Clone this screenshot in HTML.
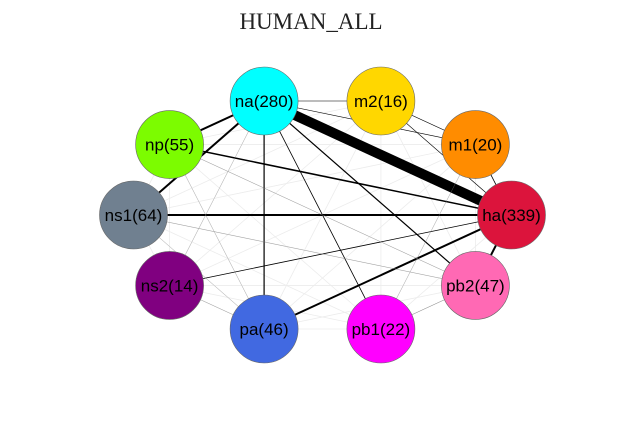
<!DOCTYPE html>
<html><head><meta charset="utf-8"><style>
body{margin:0;background:#fff;}
svg{display:block;}
</style></head><body>
<svg id="chart" width="623" height="424" viewBox="0 0 623 424" xmlns="http://www.w3.org/2000/svg">
<text x="311" y="29" text-anchor="middle" font-family="Liberation Serif, serif" font-size="23" fill="#222">HUMAN_ALL</text>
<g id="edges"></g>
<g id="nodes"></g>
</svg>
<script>
const nodeNames = ["na","m2","m1","ha","pb2","pb1","pa","ns2","ns1","np"];
const nodeCounts = [280,16,20,339,47,22,46,14,64,55];
const nodeColors = ["#00ffff","#ffd700","#ff8c00","#dc143c","#ff69b4","#ff00ff","#4169e1","#800080","#708090","#7cfc00"];
// edges: [source, target, weight]
const edgeSources = ["na","na","na","ns1","np","pa","ha","na","na","na","na","na","m2","m2","m1","ns2","pb2","np","ns1","ns2","np","ns1","na","m1"];
const edgeTargets = ["ha","np","ns1","ha","ha","ha","pb2","pb2","pa","pb1","m2","m1","m1","ha","ha","ha","pb1","pb2","pb2","pa","pa","pa","ns2","pb1"];
const edgeWeights = [10,2,2,2,1.5,2,2,1.2,1.2,0.8,0.6,0.6,0.6,0.6,0.8,0.8,0.5,0.4,0.4,0.4,0.3,0.3,0.3,0.3];
const cx=322.5, cy=215, rx=189, ry=114, nodeR=34;
const manualAngles=[-108,-72,-36,0,36,72,108,144,180,216];
function pos(name){const i=nodeNames.indexOf(name);const a=manualAngles[i]*Math.PI/180;
  return [cx+rx*Math.cos(a), cy+ry*Math.sin(a)/0.951];}
const NS="http://www.w3.org/2000/svg";
const eg=document.getElementById('edges'), ng=document.getElementById('nodes');
for(let i=0;i<nodeNames.length;i++)for(let j=i+1;j<nodeNames.length;j++){
  const p=pos(nodeNames[i]),q=pos(nodeNames[j]);
  const l=document.createElementNS(NS,'line');
  l.setAttribute('x1',p[0]);l.setAttribute('y1',p[1]);l.setAttribute('x2',q[0]);l.setAttribute('y2',q[1]);
  l.setAttribute('stroke','#ececec');l.setAttribute('stroke-width','0.8');
  
  
  eg.appendChild(l);
}
for(let k=0;k<edgeSources.length;k++){
  const p=pos(edgeSources[k]),q=pos(edgeTargets[k]),w=edgeWeights[k];
  const l=document.createElementNS(NS,'line');
  l.setAttribute('x1',p[0]);l.setAttribute('y1',p[1]);l.setAttribute('x2',q[0]);l.setAttribute('y2',q[1]);
  l.setAttribute('stroke',w>=0.6?'#000':'#888');l.setAttribute('stroke-width',w);
  
  
  eg.appendChild(l);
}
for(let i=0;i<nodeNames.length;i++){
  const p=pos(nodeNames[i]);
  const g=document.createElementNS(NS,'g');
  
  
  const c=document.createElementNS(NS,'circle');
  c.setAttribute('cx',p[0]);c.setAttribute('cy',p[1]);c.setAttribute('r',nodeR);
  c.setAttribute('fill',nodeColors[i]);c.setAttribute('stroke','#666');c.setAttribute('stroke-width','0.6');
  
  
  const t=document.createElementNS(NS,'text');
  t.setAttribute('x',p[0]);t.setAttribute('y',p[1]+6);t.setAttribute('text-anchor','middle');
  t.setAttribute('font-family','Liberation Sans, sans-serif');t.setAttribute('font-size','17');t.setAttribute('fill','#000');
  t.textContent=nodeNames[i]+'('+nodeCounts[i]+')';
  
  
  g.appendChild(c);g.appendChild(t);ng.appendChild(g);
}
</script>
</body></html>
